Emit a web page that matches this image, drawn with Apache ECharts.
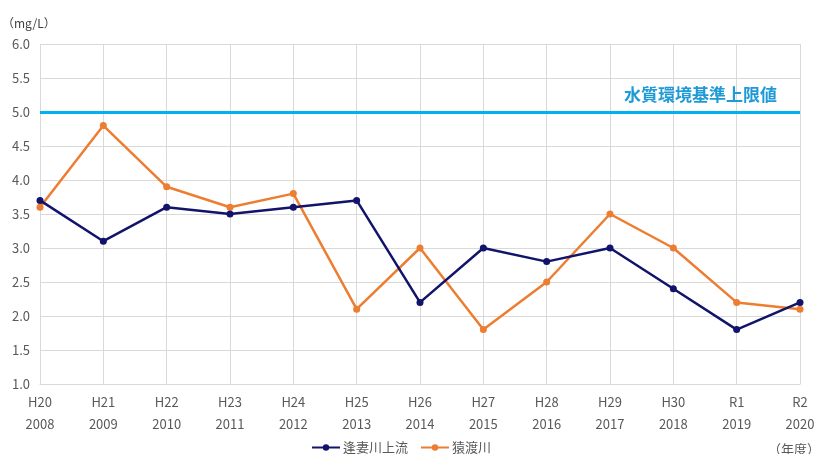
<!DOCTYPE html>
<html><head><meta charset="utf-8">
<script src="https://cdn.jsdelivr.net/npm/echarts@6/dist/echarts.min.js"></script>
<style>html,body{margin:0;padding:0;background:#fff}#c{width:821px;height:454px}</style>
</head><body><div id="c"></div>
<script>
const eraLabels = ['H20','H21','H22','H23','H24','H25','H26','H27','H28','H29','H30','R1','R2'];
const years = ['2008','2009','2010','2011','2012','2013','2014','2015','2016','2017','2018','2019','2020'];
const upstream = [3.7,3.1,3.6,3.5,3.6,3.7,2.2,3.0,2.8,3.0,2.4,1.8,2.2];
const sawatari = [3.6,4.8,3.9,3.6,3.8,2.1,3.0,1.8,2.5,3.5,3.0,2.2,2.1];
const standardLimit = 5.0;
const seriesNames = ['逢妻川上流','猿渡川'];

const FONT = '"Noto Sans CJK JP", "Noto Sans", sans-serif';
const chart = echarts.init(document.getElementById('c'));
chart.setOption({
  animation: false,
  textStyle: {fontFamily: FONT},
  grid: {left: 40, right: 21, top: 44, bottom: 70, containLabel: false, outerBoundsMode: 'none'},
  legend: {
    data: seriesNames, bottom: -5, left: 306, itemWidth: 28, itemHeight: 8, itemGap: 12,
    textStyle: {fontSize: 13, color: '#595959', fontFamily: FONT, padding: [0,0,0,-2]}
  },
  xAxis: {
    type: 'category', boundaryGap: false,
    data: eraLabels.map((e,i)=> e + '\n' + years[i]),
    axisLine: {show: true, lineStyle: {color: '#d9d9d9'}},
    axisTick: {show: false},
    axisLabel: {color: '#595959', fontSize: 13, lineHeight: 22, margin: 7, interval: 0},
    splitLine: {show: true, lineStyle: {color: '#d9d9d9', width: 1}}
  },
  yAxis: {
    type: 'value', min: 1.0, max: 6.0, interval: 0.5,
    name: '（mg/L）', nameLocation: 'end', nameGap: 15,
    nameTextStyle: {color: '#404040', fontSize: 12, align: 'left', padding: [0,0,0,-38]},
    axisLine: {show: false}, axisTick: {show: false},
    axisLabel: {color: '#595959', fontSize: 13, margin: 10, formatter: v => v.toFixed(1)},
    splitLine: {lineStyle: {color: '#d9d9d9', width: 1}}
  },
  series: [
    {
      name: seriesNames[0], type: 'line', data: upstream,
      symbol: 'circle', symbolSize: 7,
      lineStyle: {color: '#12136b', width: 2.5}, itemStyle: {color: '#12136b'},
      z: 3,
      markLine: {
        silent: true, symbol: 'none',
        data: [{yAxis: standardLimit}],
        lineStyle: {color: '#00b0f0', width: 3, type: 'solid'},
        label: {show: true, position: 'insideEndTop', formatter: '水質環境基準上限値',
          color: '#1e9ad6', fontSize: 17, fontWeight: 'bold', distance: [23, 9], fontFamily: FONT}
      }
    },
    {
      name: seriesNames[1], type: 'line', data: sawatari,
      symbol: 'circle', symbolSize: 7,
      lineStyle: {color: '#ed7d31', width: 2.5}, itemStyle: {color: '#ed7d31'},
      z: 2
    }
  ],
  graphic: [
    {type: 'text', right: 1, bottom: -2, style: {text: '（年度）', fontSize: 13, fill: '#595959', fontFamily: FONT}}
  ]
});
</script></body></html>
